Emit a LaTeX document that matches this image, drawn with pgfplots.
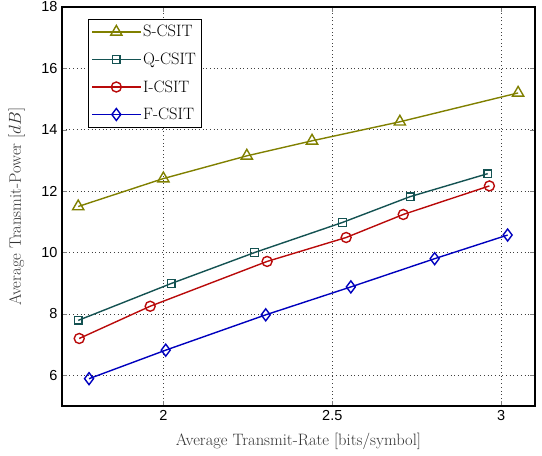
\documentclass[border=0pt]{standalone}
\usepackage{fontspec}
\usepackage{pgfplots}
\pgfplotsset{compat=1.18}
\newfontfamily\tickfont{Liberation Sans}
\definecolor{scsit}{RGB}{128,128,0}
\definecolor{qcsit}{RGB}{20,82,82}
\definecolor{icsit}{RGB}{185,10,10}
\definecolor{fcsit}{RGB}{0,0,190}
\begin{document}
\begin{tikzpicture}
\begin{axis}[
    name=main,
    scale only axis,
    width=473pt, height=399pt,
    xmin=1.7, xmax=3.1,
    ymin=5, ymax=18,
    xtick={2,2.5,3},
    ytick={6,8,10,12,14,16,18},
    tick align=inside,
    major tick length=5pt,
    axis line style={line width=1.2pt},
    grid=major,
    major grid style={dash pattern=on 0.7pt off 3pt, black!75, line width=0.7pt},
    /pgf/number format/assume math mode=true,
    tick label style={font=\fontsize{14.5}{16}\selectfont\tickfont},
    yticklabel style={xshift=-1pt},
    xticklabel style={yshift=-1pt},
    label style={font=\fontsize{16.5}{19}\selectfont, color=black!80},
    xlabel={Average Transmit-Rate [bits/symbol]},
    ylabel={Average Transmit-Power [$dB$]},
    xlabel style={at={(rel axis cs:0.5,0)}, anchor=base, yshift=-39pt},
    ylabel style={at={(rel axis cs:0,0.5)}, anchor=base, yshift=41pt},
    legend style={at={(0.055,0.97)}, anchor=north west,
        font=\fontsize{16.5}{19}\selectfont, line width=0.9pt,
        row sep=10.5pt, inner xsep=3pt, inner ysep=4pt, cells={anchor=west}},
    every axis plot/.append style={line width=1.4pt},
    legend image code/.code={
        \draw[mark repeat=2,mark phase=2] plot coordinates {(0cm,0cm) (0.85cm,0cm) (1.7cm,0cm)};
    },
]
\addplot[color=scsit, mark=triangle, mark size=6.5pt] coordinates {
 (1.748,11.50) (2.0,12.41) (2.247,13.15) (2.44,13.64) (2.70,14.26) (3.05,15.20)};
\addlegendentry{S-CSIT}
\addplot[color=qcsit, mark=square, mark size=3.8pt] coordinates {
 (1.748,7.79) (2.023,8.99) (2.27,10.0) (2.53,10.98) (2.73,11.82) (2.96,12.57)};
\addlegendentry{Q-CSIT}
\addplot[color=icsit, mark=o, mark size=5pt] coordinates {
 (1.751,7.20) (1.961,8.25) (2.307,9.71) (2.541,10.49) (2.71,11.24) (2.965,12.17)};
\addlegendentry{I-CSIT}
\addplot[color=fcsit, mark=diamond, mark size=6pt] coordinates {
 (1.780,5.89) (2.007,6.82) (2.303,7.97) (2.555,8.88) (2.803,9.80) (3.019,10.57)};
\addlegendentry{F-CSIT}
\end{axis}
\pgfresetboundingbox
\useasboundingbox ([shift={(-62pt,-49pt)}]main.south west) rectangle ([shift={(7pt,7pt)}]main.north east);
\end{tikzpicture}
\end{document}
